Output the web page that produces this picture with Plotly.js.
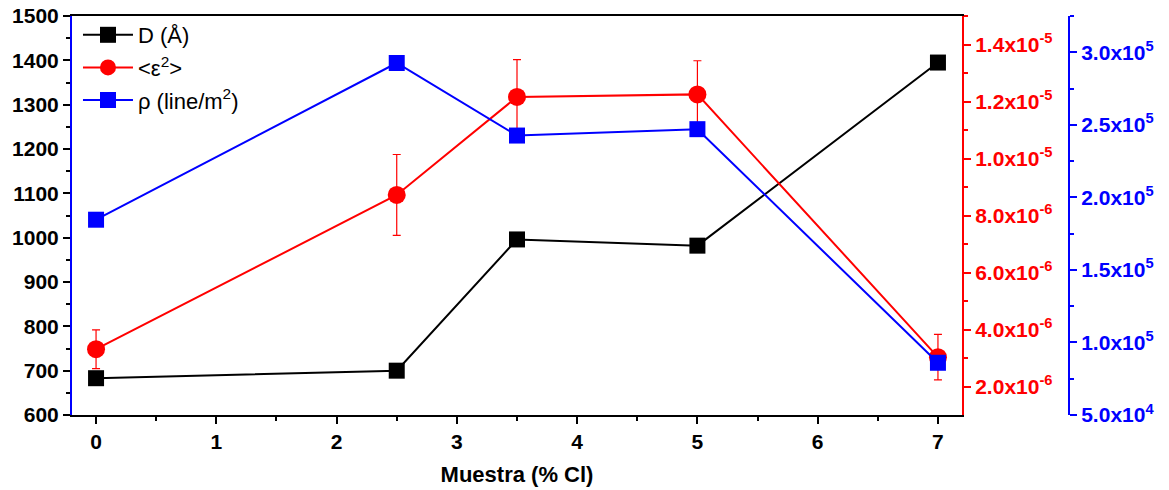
<!DOCTYPE html>
<html>
<head>
<meta charset="utf-8">
<script src="https://cdn.plot.ly/plotly-3.0.1.min.js"></script>
<style>
  html, body { margin: 0; padding: 0; background: #fff; }
  #chart { width: 1169px; height: 490px; }
</style>
</head>
<body>
<div id="chart"></div>
<script>
// Sample chlorine content (% Cl)
const muestra = [0, 2.5, 3.5, 5, 7];

// Crystallite size D (Å)
const sizeD = [683, 700, 996, 982, 1395];

// Microstrain <ε²> and its error
const strain = [3.31e-6, 8.72e-6, 1.216e-5, 1.225e-5, 3.03e-6];
const strainErr = [0.68e-6, 1.42e-6, 1.31e-6, 1.18e-6, 0.80e-6];

// Dislocation density ρ (line/m²)
const rho = [1.846e5, 2.926e5, 2.426e5, 2.47e5, 0.86e5];

// Tick labels for the two right-hand axes
const strainTicks = [2e-6, 4e-6, 6e-6, 8e-6, 1.0e-5, 1.2e-5, 1.4e-5];
const strainLabels = ['2.0x10<sup>-6</sup>', '4.0x10<sup>-6</sup>', '6.0x10<sup>-6</sup>',
  '8.0x10<sup>-6</sup>', '1.0x10<sup>-5</sup>', '1.2x10<sup>-5</sup>', '1.4x10<sup>-5</sup>'];
const rhoTicks = [5e4, 1.0e5, 1.5e5, 2.0e5, 2.5e5, 3.0e5];
const rhoLabels = ['5.0x10<sup>4</sup>', '1.0x10<sup>5</sup>', '1.5x10<sup>5</sup>',
  '2.0x10<sup>5</sup>', '2.5x10<sup>5</sup>', '3.0x10<sup>5</sup>'];

const FONT = 'Arial';

// Evenly spaced minor tick positions
function range(a, b, step) {
  const out = [];
  for (let v = a; v <= b + step * 1e-6; v += step) out.push(+v.toPrecision(6));
  return out;
}

function boldFont(color) {
  return { family: FONT, size: 21, color: color, weight: 'bold' };
}

const traces = [
  {
    x: muestra, y: sizeD, name: 'D (Å)', type: 'scatter', mode: 'lines+markers',
    legendgroup: 'd',
    line: { color: '#000000', width: 2 },
    marker: { symbol: 'square', size: 16, color: '#000000' },
    yaxis: 'y'
  },
  {
    x: muestra, y: strain, name: '&lt;ε<sup>2</sup>&gt;', type: 'scatter', mode: 'lines+markers',
    legendgroup: 'e',
    line: { color: '#ff0000', width: 2 },
    marker: { symbol: 'circle', size: 18, color: '#ff0000' },
    error_y: { type: 'data', array: strainErr, visible: true, color: '#ff0000', thickness: 1.2, width: 4 },
    yaxis: 'y2'
  },
  {
    x: muestra, y: rho, name: 'ρ (line/m<sup>2</sup>)', type: 'scatter', mode: 'lines+markers',
    legendgroup: 'r',
    line: { color: '#0000ff', width: 2 },
    marker: { symbol: 'square', size: 16, color: '#0000ff' },
    yaxis: 'y3'
  }
];

const layout = {
  width: 1169, height: 490,
  margin: { l: 72, r: 100, t: 16, b: 75 },
  paper_bgcolor: '#ffffff', plot_bgcolor: '#ffffff',
  font: { family: FONT, size: 18, color: '#000000' },
  showlegend: true,
  legend: {
    x: 0.006, y: 1.005, xanchor: 'left', yanchor: 'top',
    bgcolor: 'rgba(0,0,0,0)', borderwidth: 0,
    font: { family: FONT, size: 22, color: '#000000' },
    traceorder: 'grouped', tracegroupgap: 1,
    itemwidth: 50
  },
  xaxis: {
    domain: [0, 890 / 997],
    range: [-0.2, 7.2],
    tickmode: 'linear', tick0: 0, dtick: 1,
    ticks: 'outside', ticklen: 7, tickwidth: 2, tickcolor: '#000000',
    minor: { tickmode: 'linear', tick0: 0.5, dtick: 1, ticks: 'outside', ticklen: 4, tickwidth: 2, tickcolor: '#000000' },
    showline: true, linecolor: '#000000', linewidth: 2, mirror: true,
    showgrid: false, zeroline: false,
    tickfont: boldFont('#000000'),
    title: { text: 'Muestra (% Cl)', font: { family: FONT, size: 22, color: '#000000', weight: 'bold' }, standoff: 14 }
  },
  yaxis: {
    range: [600, 1500],
    tickmode: 'linear', tick0: 600, dtick: 100,
    ticks: 'outside', ticklen: 7, tickwidth: 2, tickcolor: '#000000',
    minor: { tickmode: 'array', tickvals: range(650, 1450, 100), ticks: 'outside', ticklen: 4, tickwidth: 2, tickcolor: '#000000' },
    showline: true, linecolor: '#0000ff', linewidth: 2,
    showgrid: false, zeroline: false,
    tickfont: boldFont('#000000')
  },
  yaxis2: {
    overlaying: 'y', side: 'right', anchor: 'x',
    range: [1e-6, 1.5e-5],
    tickmode: 'array', tickvals: strainTicks, ticktext: strainLabels,
    ticks: 'outside', ticklen: 7, tickwidth: 2, tickcolor: '#ff0000',
    minor: { tickmode: 'array', tickvals: range(3e-6, 1.5e-5, 2e-6), ticks: 'outside', ticklen: 4, tickwidth: 2, tickcolor: '#ff0000' },
    showline: true, linecolor: '#ff0000', linewidth: 2,
    showgrid: false, zeroline: false,
    tickfont: boldFont('#ff0000')
  },
  yaxis3: {
    overlaying: 'y', side: 'right', anchor: 'free', position: 1,
    range: [5e4, 3.25e5],
    tickmode: 'array', tickvals: rhoTicks, ticktext: rhoLabels,
    ticks: 'outside', ticklen: 7, tickwidth: 2, tickcolor: '#0000ff',
    minor: { tickmode: 'array', tickvals: range(7.5e4, 3.25e5, 5e4), ticks: 'outside', ticklen: 4, tickwidth: 2, tickcolor: '#0000ff' },
    showline: true, linecolor: '#0000ff', linewidth: 2,
    showgrid: false, zeroline: false,
    tickfont: boldFont('#0000ff')
  }
};

Plotly.newPlot('chart', traces, layout, { displayModeBar: false });
</script>
</body>
</html>
